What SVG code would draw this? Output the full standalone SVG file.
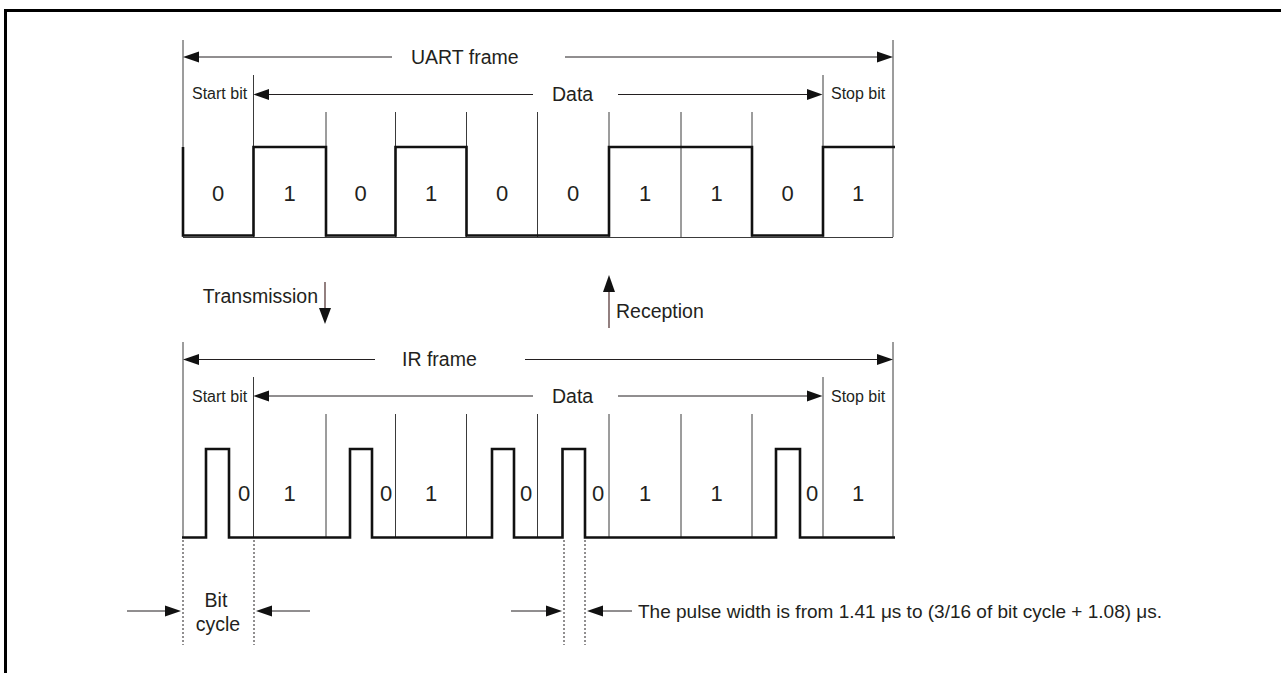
<svg xmlns="http://www.w3.org/2000/svg" width="1281" height="673" viewBox="0 0 1281 673">
<defs>
<style>
.t{font-family:"Liberation Sans",Arial,sans-serif;fill:#231f20;font-size:19.5px}
.s{font-family:"Liberation Sans",Arial,sans-serif;fill:#231f20;font-size:16px}
.d{font-family:"Liberation Sans",Arial,sans-serif;fill:#231f20;font-size:22px;text-anchor:middle}
.ln{stroke:#231f20;stroke-width:1;fill:none}
.cell{stroke:#3a3a3a;stroke-width:1;fill:none}
.wave{stroke:#111;stroke-width:2.6;fill:none;stroke-linejoin:miter}
.dot{stroke:#231f20;stroke-width:1;fill:none;stroke-dasharray:2,2}
.io{stroke:#4a2a2a;stroke-width:1.2;fill:none}
.ah{fill:#111}
</style>
</defs>
<rect width="1281" height="673" fill="#fff"/>
<g id="border">
<path d="M5.5,673 V10.5 H1281" stroke="#000" stroke-width="3" fill="none"/>
</g>

<g id="uart">
<g id="uart-cells">
<path class="cell" d="M183,40 V237 M253.5,75 V237 M326,112 V237 M395.5,112 V237 M466.5,112 V237 M537.5,112 V237 M609,112 V237 M681,112 V237 M752,112 V237 M823,75 V237 M893,40 V237 M183,237.5 H893"/>
</g>
<path id="uart-wave" class="wave" d="M183,147 V235.5 H253.5 V147 H326 V235.5 H395.5 V147 H466.5 V235.5 H609 V147 H752 V235.5 H823 V147 H895"/>
<g id="uart-digits">
<text class="d" x="218" y="201">0</text>
<text class="d" x="289.5" y="201">1</text>
<text class="d" x="360.5" y="201">0</text>
<text class="d" x="431" y="201">1</text>
<text class="d" x="502" y="201">0</text>
<text class="d" x="573" y="201">0</text>
<text class="d" x="645" y="201">1</text>
<text class="d" x="716.5" y="201">1</text>
<text class="d" x="787.5" y="201">0</text>
<text class="d" x="858" y="201">1</text>
</g>
<text class="t" x="411" y="64">UART frame</text>
<text class="s" x="192" y="99">Start bit</text>
<text class="t" x="552" y="101">Data</text>
<text class="s" x="831" y="99">Stop bit</text>
</g>

<g id="ir">
<g id="ir-cells">
<path class="cell" d="M183,342 V538 M253.5,377 V538 M326,414 V538 M395.5,414 V538 M466.5,414 V538 M537.5,414 V538 M609,414 V538 M681,414 V538 M752,414 V538 M823,377 V538 M893,342 V538"/>
</g>
<path id="ir-wave" class="wave" d="M182,537.5 H206 V449 H229 V537.5 H350 V449 H372 V537.5 H492 V449 H514 V537.5 H562.5 V449 H585 V537.5 H776 V449 H800 V537.5 H895"/>
<g id="ir-digits">
<text class="d" x="244" y="501">0</text>
<text class="d" x="289.5" y="501">1</text>
<text class="d" x="386" y="501">0</text>
<text class="d" x="431" y="501">1</text>
<text class="d" x="526" y="501">0</text>
<text class="d" x="598" y="501">0</text>
<text class="d" x="645" y="501">1</text>
<text class="d" x="716.5" y="501">1</text>
<text class="d" x="812" y="501">0</text>
<text class="d" x="858" y="501">1</text>
</g>
<text class="t" x="402" y="366">IR frame</text>
<text class="s" x="192" y="402">Start bit</text>
<text class="t" x="552" y="403">Data</text>
<text class="s" x="831" y="402">Stop bit</text>
</g>

<g id="transmission">
<text class="t" x="318" y="303" text-anchor="end">Transmission</text>
</g>
<g id="reception">
<text class="t" x="616" y="318">Reception</text>
</g>

<g id="bit-cycle">
<text class="t" x="216" y="607" text-anchor="middle">Bit</text>
<text class="t" x="218" y="631" text-anchor="middle">cycle</text>
</g>
<g id="pulse-width">
<text class="t" x="638" y="618" style="font-size:19px">The pulse width is from 1.41 μs to (3/16 of bit cycle + 1.08) μs.</text>
</g>

<g id="connectors">
<path class="ln" d="M197,57 H392 M565,57 H879"/>
<path class="ah" d="M183,57 L199,51.5 L199,62.5 Z M893,57 L877,51.5 L877,62.5 Z"/>
<path class="ln" d="M267,94.5 H533 M618,94.5 H808"/>
<path class="ah" d="M253.5,94.5 L269,89 L269,100 Z M822.5,94.5 L807,89 L807,100 Z"/>
<path class="ln" d="M197,359.5 H375 M525,359.5 H879"/>
<path class="ah" d="M183,359.5 L199,354 L199,365 Z M893,359.5 L877,354 L877,365 Z"/>
<path class="ln" d="M267,396 H533 M618,396 H808"/>
<path class="ah" d="M253.5,396 L269,390.5 L269,401.5 Z M822.5,396 L807,390.5 L807,401.5 Z"/>
<path class="io" d="M325,282 V310"/>
<path class="ah" d="M325,324 L319,308 L331,308 Z"/>
<path class="io" d="M609,328 V290"/>
<path class="ah" d="M609,275 L603,292 L615,292 Z"/>
<path class="dot" d="M183,540 V645 M254,540 V645 M564,540 V645 M585,540 V645"/>
<path class="ln" d="M127,611 H167 M270,611 H310"/>
<path class="ah" d="M181,611 L165,605.5 L165,616.5 Z M256,611 L272,605.5 L272,616.5 Z"/>
<path class="ln" d="M511,611 H548 M601,611 H632"/>
<path class="ah" d="M562,611 L546,605.5 L546,616.5 Z M587,611 L603,605.5 L603,616.5 Z"/>
</g>
</svg>
